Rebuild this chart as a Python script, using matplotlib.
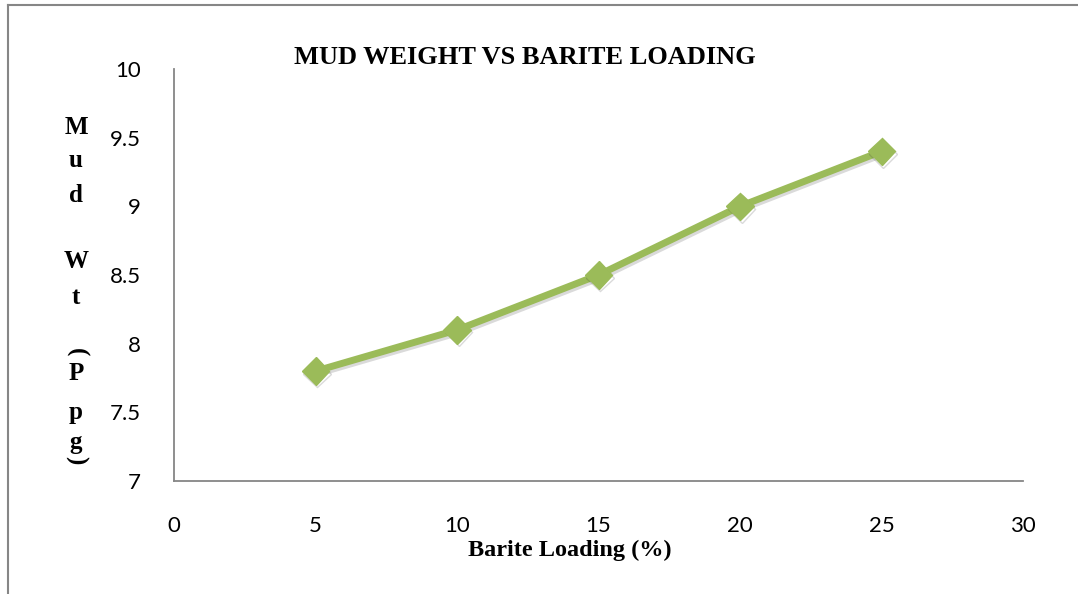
import matplotlib
matplotlib.use("Agg")
import matplotlib.pyplot as plt
import matplotlib.patheffects as pe
from matplotlib.lines import Line2D

# data
barite = [5, 10, 15, 20, 25]
mud_wt = [7.8, 8.1, 8.5, 9.0, 9.4]
xticks = [0, 5, 10, 15, 20, 25, 30]
yticks = [7, 7.5, 8, 8.5, 9, 9.5, 10]
ytick_labels = ["7", "7.5", "8", "8.5", "9", "9.5", "10"]

W, H = 1078, 594
fig = plt.figure(figsize=(W / 100, H / 100), dpi=100)
ax = fig.add_axes([174 / W, 1 - 481 / H, (1023 - 174) / W, (481 - 69) / H])

ax.plot(barite, mud_wt, color="#9BBB59", lw=5, marker="D", ms=14,
        solid_joinstyle="round", solid_capstyle="round", clip_on=False,
        path_effects=[pe.SimpleLineShadow(offset=(1.2, -1.8), alpha=0.18, shadow_color="#333333"),
                      pe.Normal()])

ax.set_xlim(0, 30)
ax.set_ylim(7, 10)
ax.set_xticks(xticks)
ax.set_yticks(yticks)
ax.set_yticklabels(ytick_labels)
for s in ["top", "right"]:
    ax.spines[s].set_visible(False)
for s in ["left", "bottom"]:
    ax.spines[s].set_color("#868686")
    ax.spines[s].set_linewidth(1.3)
ax.tick_params(length=0, labelsize=16)
for lab in ax.get_xticklabels() + ax.get_yticklabels():
    lab.set_family("Lato")
ax.tick_params(axis="y", pad=24)
ax.tick_params(axis="x", pad=25)

# title and x label
fig.text(525 / W, 1 - 57 / H, "MUD WEIGHT VS BARITE LOADING", family="Liberation Serif",
         weight="bold", fontsize=19, ha="center", va="center")
fig.text(570 / W, 1 - 550 / H, "Barite Loading (%)", family="Liberation Serif",
         weight="bold", fontsize=17.5, ha="center", va="center")

# stacked y label
ychars = ["M", "u", "d", "W", "t", "(", "P", "p", "g", ")"]
ypos = [127, 161, 195, 262, 298, 352, 374, 412, 443, 460]
for ch, yp in zip(ychars, ypos):
    rot = -90 if ch in "()" else 0
    fig.text(76 / W, 1 - yp / H, ch, family="Liberation Serif", weight="bold",
             fontsize=18, ha="center", va="center", rotation=rot)

# outer frame (top and left only)
fig.add_artist(Line2D([8 / W, 1], [1 - 5 / H, 1 - 5 / H], color="#868686", lw=1.5))
fig.add_artist(Line2D([8 / W, 8 / W], [0, 1 - 5 / H], color="#868686", lw=1.5))

fig.savefig("out.png", dpi=100)
